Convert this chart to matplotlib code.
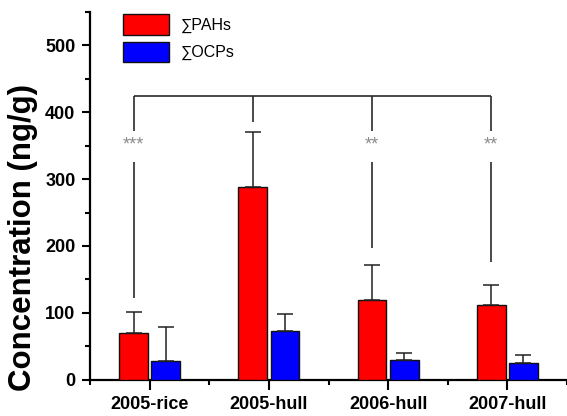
import matplotlib
matplotlib.use("Agg")
import matplotlib.pyplot as plt
import numpy as np
from matplotlib.ticker import MultipleLocator

plt.rcParams["font.family"] = ["Liberation Sans", "DejaVu Sans"]

groups = ["2005-rice", "2005-hull", "2006-hull", "2007-hull"]
pahs = [70, 288, 119.5, 111]
pahs_err = [31.5, 82, 51.5, 30.5]
ocps = [27.5, 73, 29.5, 25]
ocps_err = [52, 25, 10.5, 12.5]
series_labels = ["\u2211PAHs", "\u2211OCPs"]

# significance bracket (y values in data units)
bracket_top = 424
bracket_upper_end = [371.5, 385, 371.5, 371.5]
bracket_lower_start = 325
bracket_lower_end = [122, None, 197, 176]
stars = ["***", "", "**", "**"]
star_y = 351

x = np.arange(len(groups))
width = 0.24
offset = 0.135

fig = plt.figure(figsize=(5.67, 4.16), dpi=100)
ax = fig.add_axes([90 / 567, 36.3 / 416, 477 / 567, 367.7 / 416])

err_kw = dict(ecolor="#222222", elinewidth=1.1, capsize=5.8, capthick=1.1)
ax.bar(x - offset, pahs, width, color="#ff0000", edgecolor="#111111", linewidth=1.0,
       yerr=[np.zeros(len(pahs)), pahs_err], error_kw=err_kw, label=series_labels[0], zorder=3)
ax.bar(x + offset, ocps, width, color="#0000ff", edgecolor="#111111", linewidth=1.0,
       yerr=[np.zeros(len(ocps)), ocps_err], error_kw=err_kw, label=series_labels[1], zorder=3)

line_kw = dict(color="#2a2a2a", linewidth=1.2, solid_capstyle="butt")
xs = x - offset
ax.plot([xs[0], xs[-1]], [bracket_top, bracket_top], **line_kw)
for xi, up_end, lo_end, s in zip(xs, bracket_upper_end, bracket_lower_end, stars):
    ax.plot([xi, xi], [bracket_top, up_end], **line_kw)
    if lo_end is not None:
        ax.plot([xi, xi], [bracket_lower_start, lo_end], **line_kw)
    if s:
        ax.text(xi, star_y, s, ha="center", va="center", fontsize=13, color="#8c8c8c")

ax.set_xlim(-0.5, 3.5)
ax.set_ylim(0, 550)
ax.set_xticks(x)
ax.set_xticklabels(groups, fontsize=13, fontweight="bold")
ax.xaxis.set_minor_locator(MultipleLocator(1, offset=0.5))
ax.yaxis.set_major_locator(MultipleLocator(100))
ax.yaxis.set_minor_locator(MultipleLocator(50))
for lbl in ax.get_yticklabels():
    lbl.set_fontsize(13)
    lbl.set_fontweight("bold")

ax.tick_params(axis="both", which="major", direction="out", width=1.5, length=6, pad=4.5)
ax.tick_params(axis="both", which="minor", direction="out", width=1.5, length=3.5)
ax.tick_params(axis="x", which="major", length=7, pad=5)

for side in ["top", "right"]:
    ax.spines[side].set_visible(False)
for side in ["left", "bottom"]:
    ax.spines[side].set_linewidth(1.6)

ax.set_ylabel("Concentration (ng/g)", fontsize=22.5, fontweight="bold")
ax.yaxis.set_label_coords(-0.109, 0.387)

ax.legend(loc="upper left", bbox_to_anchor=(123 / 567, 1 - 14 / 416), bbox_transform=fig.transFigure,
          frameon=False, fontsize=11.5, handlelength=2.85, handleheight=1.6,
          labelspacing=0.45, handletextpad=0.75, borderpad=0, borderaxespad=0)

fig.savefig("out.png", dpi=100)
